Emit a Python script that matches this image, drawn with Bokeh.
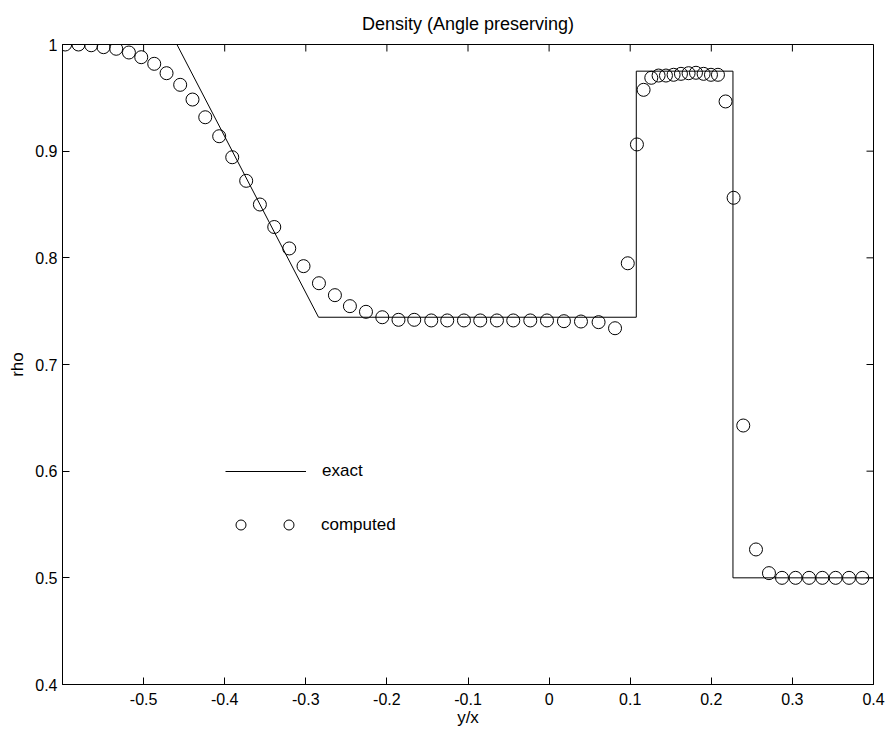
import math
from bokeh.plotting import figure
from bokeh.models import Range1d, FixedTicker, Legend, LegendItem
from bokeh.embed import file_html
from bokeh.resources import INLINE

# ---- data -------------------------------------------------------------
x_exact = [-0.6, -0.4589, -0.2843, 0.1075, 0.1075, 0.2267, 0.2267, 0.4]
rho_exact = [1.0, 1.0, 0.7443, 0.7443, 0.975, 0.975, 0.5, 0.5]

x_computed = [-0.5967, -0.5803, -0.5646, -0.5494, -0.5338, -0.5181, -0.5029, -0.4869, -0.4717, -0.4549,
              -0.4397, -0.4240, -0.4068, -0.3907, -0.3735, -0.3566, -0.3389, -0.3204, -0.3028, -0.2838,
              -0.2641, -0.2456, -0.2258, -0.2057, -0.1857, -0.1663, -0.1453, -0.1256, -0.1050, -0.0849,
              -0.0643, -0.0442, -0.0232, -0.0026, 0.0183, 0.0393, 0.0610, 0.0813, 0.0970, 0.1083,
              0.1165, 0.1260, 0.1350, 0.1441, 0.1535, 0.1626, 0.1720, 0.1811, 0.1905, 0.1996,
              0.2082, 0.2176, 0.2275, 0.2394, 0.2551, 0.2711, 0.2872, 0.3039, 0.3205, 0.3369,
              0.3533, 0.3698, 0.3862]
rho_computed = [1.0, 1.0, 0.9993, 0.9975, 0.9960, 0.9925, 0.9881, 0.9819, 0.9731, 0.9622,
                0.9484, 0.9318, 0.9140, 0.8943, 0.8722, 0.8500, 0.8289, 0.8088, 0.7922, 0.7762,
                0.7650, 0.7547, 0.7494, 0.7443, 0.7419, 0.7419, 0.7413, 0.7413, 0.7413, 0.7413,
                0.7413, 0.7413, 0.7413, 0.7413, 0.7406, 0.7403, 0.7397, 0.7340, 0.7949, 0.9063,
                0.9575, 0.9688, 0.9709, 0.9709, 0.9716, 0.9725, 0.9731, 0.9735, 0.9725, 0.9716,
                0.9716, 0.9466, 0.8563, 0.6428, 0.5266, 0.5044, 0.5000, 0.5000, 0.5000, 0.5000,
                0.5000, 0.5000, 0.5000]

x_ticks = [-0.5, -0.4, -0.3, -0.2, -0.1, 0.0, 0.1, 0.2, 0.3, 0.4]
x_tick_labels = ["-0.5", "-0.4", "-0.3", "-0.2", "-0.1", "0", "0.1", "0.2", "0.3", "0.4"]
y_ticks = [0.4, 0.5, 0.6, 0.7, 0.8, 0.9, 1.0]
y_tick_labels = ["0.4", "0.5", "0.6", "0.7", "0.8", "0.9", "1"]

X_MIN, X_MAX = -0.6, 0.4
Y_MIN, Y_MAX = 0.4, 1.0

FONT = "Liberation Sans"
TICK_FS = "16px"

p = figure(width=886, height=733, output_backend="svg", toolbar_location=None,
           x_range=Range1d(X_MIN, X_MAX), y_range=Range1d(Y_MIN, Y_MAX),
           min_border_left=62, min_border_right=13, min_border_top=44, min_border_bottom=49,
           x_axis_label="y/x", y_axis_label="rho")
p.grid.visible = False
p.background_fill_color = "white"
p.border_fill_color = "white"
p.outline_line_color = "black"
p.outline_line_width = 1

p.title.text = "Density (Angle preserving)"
p.title.align = "center"
p.title.text_font = FONT
p.title.text_font_size = "18px"
p.title.text_font_style = "normal"
p.title.text_color = "black"
p.title.standoff = 21


def style_axis(ax, ticks, labels):
    ax.ticker = FixedTicker(ticks=ticks)
    ax.major_label_overrides = {t: l for t, l in zip(ticks, labels)}
    ax.minor_tick_line_color = None
    ax.major_tick_in = 7
    ax.major_tick_out = 0
    ax.major_tick_line_color = "black"
    ax.axis_line_color = "black"
    ax.major_label_text_font = FONT
    ax.major_label_text_color = "black"
    ax.major_label_text_font_size = TICK_FS
    ax.axis_label_text_font = FONT
    ax.axis_label_text_font_size = "17px"
    ax.axis_label_text_font_style = "normal"
    ax.axis_label_text_color = "black"


style_axis(p.xaxis[0], x_ticks, x_tick_labels)
style_axis(p.yaxis[0], y_ticks, y_tick_labels)
p.xaxis[0].major_label_standoff = 8
p.yaxis[0].major_label_standoff = 5
p.xaxis[0].axis_label_standoff = 0
p.yaxis[0].axis_label_standoff = 5

# mirrored inward ticks on the top and right edges of the frame
p.ray(x=x_ticks, y=[Y_MAX] * len(x_ticks), length=7, length_units="screen",
      angle=-math.pi / 2, line_color="black", line_width=1)
p.ray(x=[X_MAX] * len(y_ticks), y=y_ticks, length=7, length_units="screen",
      angle=math.pi, line_color="black", line_width=1)

# ---- glyphs -----------------------------------------------------------
r_exact = p.line(x_exact, rho_exact, line_color="black", line_width=1)
r_comp = p.scatter(x_computed, rho_computed, marker="circle", size=13,
                   fill_color=None, line_color="black", line_width=1)


def make_legend(label, renderer, loc, gw, gh, standoff, fs):
    lg = Legend(items=[LegendItem(label=label, renderers=[renderer])],
                location=loc, glyph_width=gw, glyph_height=gh,
                label_standoff=standoff, padding=0, margin=0, spacing=0,
                border_line_color=None, background_fill_alpha=0,
                label_text_font=FONT, label_text_font_size=fs,
                label_text_color="black", label_height=gh)
    p.add_layout(lg, "center")
    return lg


make_legend("exact", r_exact, (163, 203), 81, 20, 16, "17px")
make_legend("computed", r_comp, (214, 147), 25, 25, 20, "17px")
make_legend(" ", r_comp, (166, 147), 25, 25, 0, "17px")

open("out.html", "w").write(file_html(p, INLINE))
